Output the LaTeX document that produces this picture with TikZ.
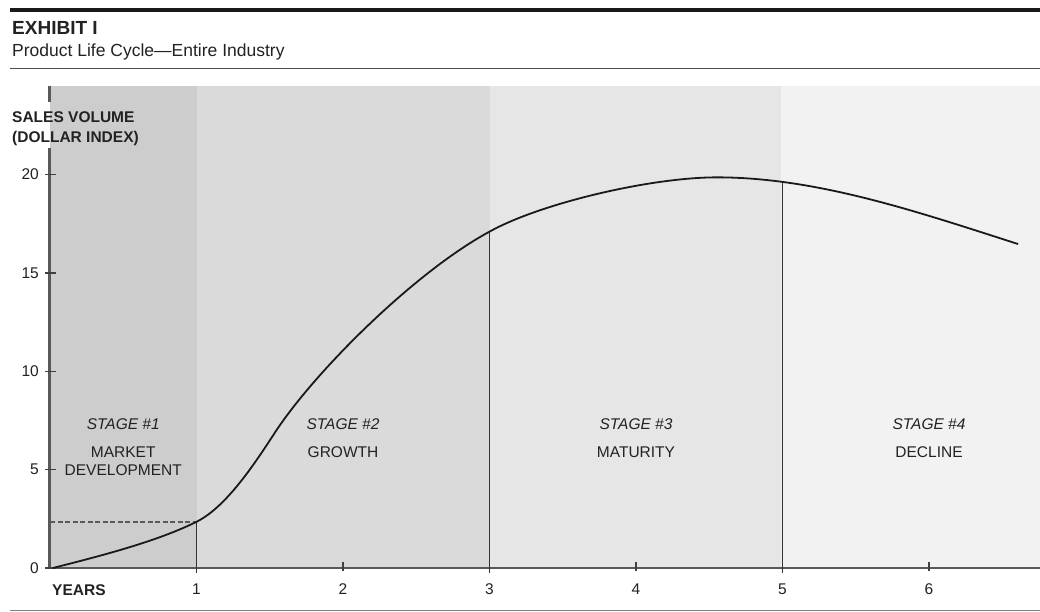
\documentclass[tikz,border=0pt]{standalone}
\usepackage{fontspec}
\setmainfont{Liberation Sans}
\usepackage{tikz}
\definecolor{phaseA}{HTML}{CDCDCD}
\definecolor{phaseB}{HTML}{DADADA}
\definecolor{phaseC}{HTML}{E6E6E6}
\definecolor{phaseD}{HTML}{F2F2F2}
\definecolor{ink}{HTML}{222222}
\tikzstyle{Head}= [anchor=base west,inner sep=0pt,text=ink,font=\fontsize{19}{22}\selectfont\bfseries]
\tikzstyle{Sub}= [anchor=base west,inner sep=0pt,text=ink,font=\fontsize{17.5}{20}\selectfont]
\tikzstyle{Lbl}= [inner sep=0pt,text=ink,font=\fontsize{15.5}{17.5}\selectfont]
\tikzstyle{BoldLbl}= [Lbl,font=\fontsize{15.5}{20}\selectfont\bfseries]
\tikzstyle{Stage}= [Lbl,anchor=base,font=\fontsize{15.5}{17.5}\selectfont\itshape]
\tikzstyle{Phase}= [Lbl,anchor=north,align=center]
\tikzstyle{Rule}= [line width=1.4pt,black!70]
\tikzstyle{Axis}= [line width=2.2pt,black!65]
\tikzstyle{Tick}= [line width=1.6pt,black!75]
\tikzstyle{Mark}= [line width=1.6pt,black!80]
\tikzstyle{Curve}= [line width=1.8pt,black!90]

\begin{document}
\begin{tikzpicture}[x=1pt,y=-1pt]

		\useasboundingbox (0,0) rectangle (1040,612);

		% Kopf
		\draw[line width=3.6pt,black!90] (10,10) -- (1040,10);
		\node [Head] (exhibit) at (12,35) {EXHIBIT I};
		\node [Sub] (title) at (12,57) {Product Life Cycle—Entire Industry};
		\draw[Rule] (10,68.5) -- (1040,68.5);

		% Phasen
		\fill[phaseA] (50,86) rectangle (196.5,568);
		\fill[phaseB] (196.5,86) rectangle (490,568);
		\fill[phaseC] (490,86) rectangle (781,568);
		\fill[phaseD] (781,86) rectangle (1040,568);

		% Achsen
		\node [BoldLbl,anchor=north west,align=left] (ylab) at (12,111.5) {SALES VOLUME\\(DOLLAR INDEX)};
		\coordinate (ytop) at (49.5,86);
		\coordinate (o) at (49.5,568);
		\coordinate (xend) at (1040,568);
		\draw[Axis] (ytop) -- ([yshift=9pt]ytop |- ylab.north);
		\draw[Axis] ([yshift=-2pt]ytop |- ylab.south) -- (o);
		\draw[Axis] (o) -- (xend);
		\draw[Rule,black!50] (10,610.5) -- (1040,610.5);

		\begin{scope}[shift={(50,568)},x=146.5pt,y=19.67pt]

		\coordinate (c0) at (0.02,0);
		\coordinate (c1) at (1,2.35);
		\coordinate (c3) at (3,17.1);
		\coordinate (c5) at (5,19.62);

		\foreach \v in {0,5,10,15,20}
		{
			\draw[Tick] ([xshift=-5pt]0,\v) -- ([xshift=6pt]0,\v);
			\node [Lbl,anchor=east] (y\v) at ([xshift=-11pt]0,\v) {\v};
		}
		\foreach \x in {2,4,6}
			\draw[Tick] ([yshift=-3pt]\x,0) -- ([yshift=6pt]\x,0);
		\foreach \x in {1,...,6}
			\node [Lbl,anchor=base] (x\x) at ([yshift=-26pt]\x,0) {\x};
		\node [BoldLbl,anchor=base west] (years) at ([xshift=2pt,yshift=-27pt]0,0) {YEARS};

		\draw[Mark,dashed,dash pattern=on 5pt off 2.5pt,black!65] (0,2.35) -- (c1);
		\foreach \c in {1,3,5}
			\draw[Mark] (c\c) -- ([yshift=-5pt]\c,0);

		\draw[Curve]
		(c0) .. controls (0.341,0.61) and (0.727,1.337) .. (c1)
		.. controls (1.218,3.152) and (1.425,5.643) .. (1.547,7.016)
		.. controls (1.82,10.066) and (2.491,15.048) .. (c3)
		.. controls (3.345,18.53) and (4.096,19.86) .. (4.553,19.86)
		.. controls (5.235,19.86) and (5.925,18.10) .. (6.608,16.47);

		% Stufen
		\node [Stage] (s1) at (0.5,7.02) {STAGE \#1};
		\node [Phase] (p1) at (0.5,6.17) {MARKET\\DEVELOPMENT};
		\node [Stage] (s2) at (2,7.02) {STAGE \#2};
		\node [Phase] (p2) at (2,6.17) {GROWTH};
		\node [Stage] (s3) at (4,7.02) {STAGE \#3};
		\node [Phase] (p3) at (4,6.17) {MATURITY};
		\node [Stage] (s4) at (6,7.02) {STAGE \#4};
		\node [Phase] (p4) at (6,6.17) {DECLINE};

		\end{scope}

	\end{tikzpicture}
\end{document}
